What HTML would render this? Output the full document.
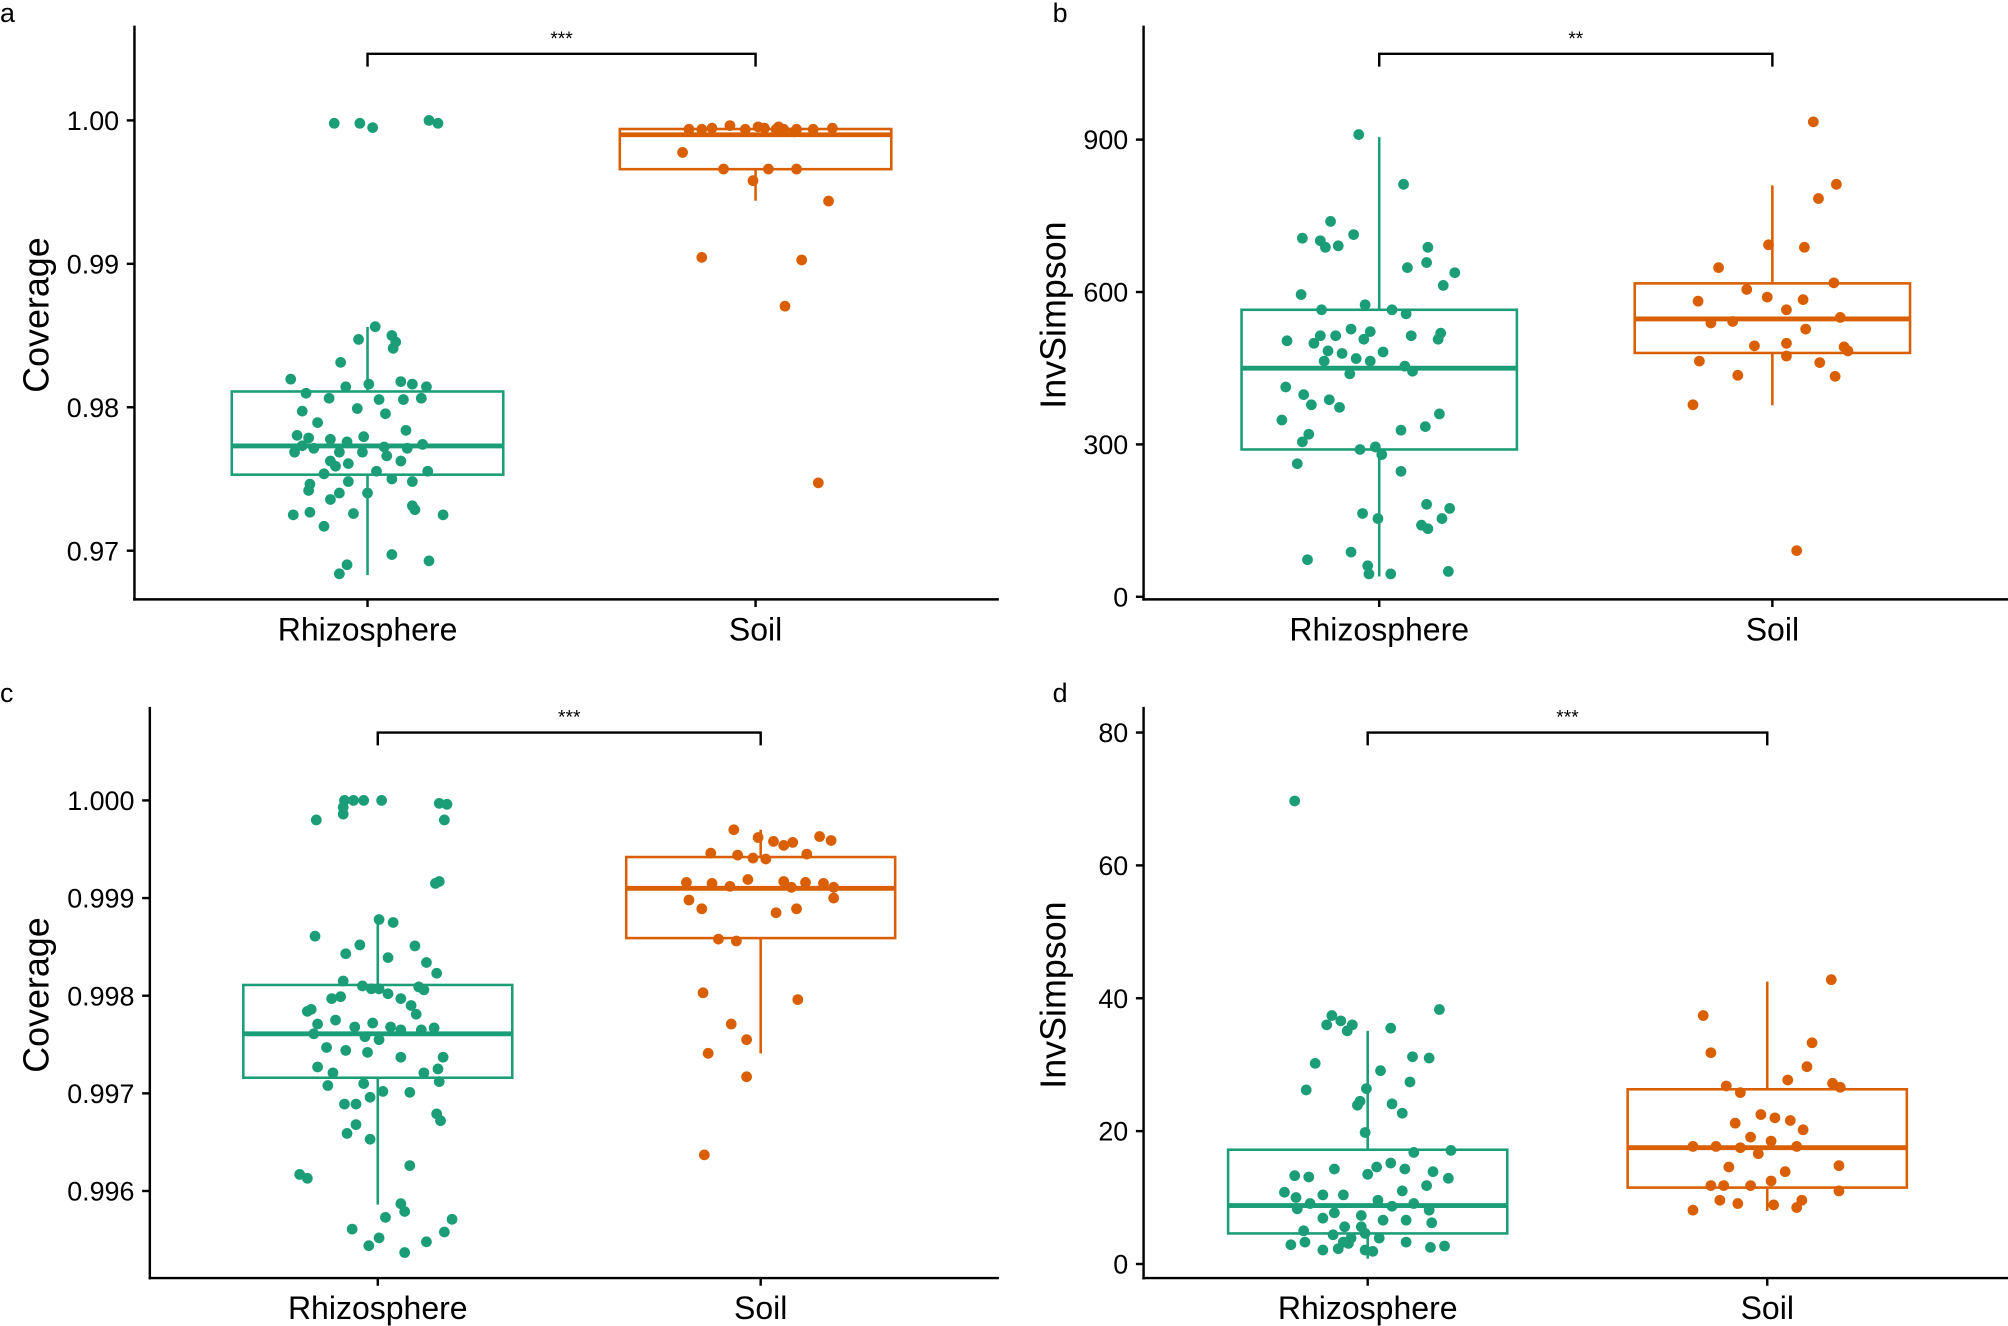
<!DOCTYPE html>
<html><head><meta charset="utf-8"><style>
html,body{margin:0;padding:0;background:#fff;}
svg{display:block;font-family:"Liberation Sans",Arial,sans-serif;}
</style></head><body>
<svg id="fig" width="2008" height="1326" viewBox="0 0 1568 1035.4" xmlns="http://www.w3.org/2000/svg"></svg>
<script>
const categories = ["Rhizosphere","Soil"];
// Panel a: [jitter, value]
const aRhizo = [[-26,.9998],[-6,.9998],[4,.9995],[48,1.0],[55,.9998],[6,.98562],[-7,.98473],[19,.985],[22,.98455],[20,.98411],[-21,.98313],[-60,.98196],[-17,.98143],[1,.98161],[26,.98179],[35,.98161],[46,.98143],[-48,.98098],[-30,.98063],[9,.98054],[28,.98054],[42,.98063],[-8,.97991],[-51,.97973],[14,.97955],[-39,.97893],[30,.97839],[-55,.97804],[-46,.97786],[-29,.97777],[-16,.97759],[-3,.97795],[13,.97723],[-51,.97732],[-42,.97714],[-57,.97687],[-22,.97687],[-4,.97687],[31,.97714],[43,.97741],[-29,.97625],[-15,.97607],[15,.97661],[26,.97625],[-25,.97589],[47,.97554],[-34,.97536],[7,.97554],[-45,.97464],[-15,.97482],[19,.975],[35,.97482],[-46,.9742],[-22,.97402],[0,.97402],[-29,.97357],[35,.97313],[37,.97286],[-45,.97268],[-11,.97259],[59,.9725],[-58,.9725],[-34,.9717],[19,.96973],[48,.96929],[-16,.96902],[-22,.96839]];
const aSoil = [[-52,.99938],[-42,.99938],[-34,.99946],[-20,.99964],[-8,.99938],[2,.99955],[7,.99946],[16,.99938],[18,.99955],[22,.99938],[32,.99938],[45,.99938],[60,.99946],[30,.9992],[-57,.99777],[-25,.99661],[10,.99661],[32,.99661],[-2,.9958],[57,.99438],[-42,.99045],[36,.99027],[23,.98705],[49,.97473]];
const aBoxes = [[.9683,.9753,.9773,.9811,.9856],[.9944,.9966,.9990,.9994,.9994]];
const aTicks = [0.97,0.98,0.99,1.00];
const aTickLabels = ["0.97","0.98","0.99","1.00"];
// Panel b
const bRhizo = [[-16,910],[19,812],[-38,739],[-60,706],[-46,701],[-32,691],[-42,688],[-20,713],[38,688],[37,658],[22,648],[59,638],[50,613],[-61,595],[-11,575],[-45,565],[10,565],[21,557],[-22,527],[48,519],[-46,514],[-34,514],[25,514],[-7,522],[46,507],[-72,504],[-51,499],[-12,507],[-40,484],[3,482],[-29,479],[-18,469],[-7,464],[-43,464],[20,454],[26,444],[-23,439],[-73,413],[-59,398],[-39,388],[-53,378],[-31,373],[47,360],[-76,348],[36,335],[-55,320],[17,328],[-60,305],[-3,295],[-15,290],[2,280],[-64,262],[17,247],[55,174],[37,182],[49,154],[33,141],[38,134],[-13,164],[-1,154],[-56,73],[-22,88],[-9,61],[9,45],[-8,45],[54,50]];
const bSoil = [[32,935],[50,812],[36,784],[-3,693],[25,688],[-42,648],[-20,605],[48,618],[-58,582],[-4,590],[24,585],[11,565],[53,550],[-31,542],[-48,539],[26,527],[-14,494],[11,499],[56,492],[59,484],[37,461],[-57,464],[11,474],[-27,436],[49,434],[-62,378],[19,91]];
const bBoxes = [[40,290,450,565,905],[377,480,547,617,810]];
const bTicks = [0,300,600,900];
const bTickLabels = ["0","300","600","900"];
// Panel c
const cRhizo = [[-26,1.0],[-19,1.0],[-11,1.0],[3,1.0],[-48,.9998],[-27,.99993],[-27,.99986],[48,.99997],[54,.99996],[52,.9998],[45,.99915],[48,.99917],[1,.99878],[12,.99875],[29,.99851],[-25,.99843],[-49,.99861],[-14,.99852],[46,.99823],[8,.99839],[38,.99834],[-27,.99815],[32,.99809],[-52,.99786],[-29,.99799],[-36,.99797],[-12,.9981],[-5,.99807],[1,.99807],[36,.99806],[8,.99802],[18,.99797],[26,.9979],[-55,.99784],[30,.99781],[-47,.99771],[-33,.99775],[-18,.99768],[-4,.99772],[10,.99768],[18,.99765],[34,.99765],[44,.99767],[-50,.99761],[-10,.99758],[1,.99755],[-40,.99747],[-25,.99744],[-8,.99742],[18,.99737],[51,.99737],[47,.99725],[-47,.99727],[-35,.99721],[36,.99721],[48,.99712],[-11,.9971],[-39,.99708],[4,.99702],[25,.99701],[-17,.99689],[-6,.99696],[-26,.99689],[46,.99679],[49,.99672],[-17,.99668],[-24,.99659],[-6,.99653],[25,.99626],[-61,.99617],[-55,.99613],[18,.99587],[21,.99579],[6,.99573],[58,.99571],[-20,.99561],[1,.99552],[38,.99548],[-7,.99544],[21,.99537],[52,.99558]];
const cSoil = [[-21,.9997],[-2,.99962],[10,.99958],[18,.99954],[25,.99957],[46,.99963],[55,.99959],[-39,.99946],[-18,.99944],[-6,.99941],[4,.9994],[36,.99945],[-58,.99916],[-38,.99915],[-24,.99912],[-10,.99919],[18,.99917],[24,.99911],[35,.99916],[49,.99915],[57,.99911],[57,.999],[-56,.99898],[-46,.99889],[12,.99885],[28,.99889],[-33,.99858],[-19,.99856],[29,.99796],[-45,.99803],[-23,.99771],[-41,.99741],[-11,.99755],[-11,.99717],[-44,.99637]];
const cBoxes = [[.99586,.99716,.99761,.99811,.99873],[.99741,.99859,.99910,.99942,.99970]];
const cTicks = [0.996,0.997,0.998,0.999,1.000];
const cTickLabels = ["0.996","0.997","0.998","0.999","1.000"];
// Panel d
const dRhizo = [[-57,69.7],[56,38.3],[-28,37.4],[-21,36.6],[-12,36.0],[18,35.5],[-32,36.0],[-16,35.1],[10,29.1],[-41,30.2],[35,31.2],[48,31.0],[-48,26.2],[-1,26.4],[33,27.4],[-6,24.5],[19,24.1],[27,22.7],[-8,23.9],[-2,19.8],[65,17.1],[36,16.8],[18,15.2],[7,14.6],[-26,14.3],[29,14.3],[51,13.9],[63,12.9],[-57,13.3],[-46,13.1],[0,13.5],[27,11.0],[46,11.8],[-65,10.8],[-35,10.4],[-19,10.4],[-56,10.0],[8,9.6],[-45,9.1],[19,8.7],[36,9.1],[48,8.1],[-55,8.3],[-26,7.7],[-5,7.3],[-35,6.9],[12,6.6],[30,6.6],[50,6.2],[-18,5.6],[-5,5.6],[-50,5.0],[-27,4.4],[-13,3.9],[-2,4.6],[9,3.9],[-49,3.3],[-19,3.3],[30,3.3],[60,2.7],[-23,2.3],[-35,2.1],[-2,2.1],[4,1.9],[-15,3.1],[-60,2.9],[49,2.5]];
const dSoil = [[50,42.8],[-50,37.4],[35,33.3],[31,29.7],[-44,31.8],[16,27.7],[-32,26.8],[51,27.2],[57,26.6],[-21,25.8],[-5,22.5],[6,22.0],[-25,21.2],[18,21.6],[28,20.2],[-13,19.1],[-58,17.7],[-40,17.7],[-21,17.5],[3,18.5],[23,17.7],[-7,16.6],[-30,14.6],[14,13.9],[56,14.8],[3,12.5],[-44,11.8],[-34,11.8],[-13,11.8],[56,11.0],[-37,9.6],[27,9.6],[-23,9.1],[23,8.5],[-58,8.1],[5,8.9]];
const dBoxes = [[0.8,4.6,8.8,17.2,35.1],[8,11.5,17.5,26.3,42.5]];
const dTicks = [0,20,40,60,80];
const dTickLabels = ["0","20","40","60","80"];

const NS="http://www.w3.org/2000/svg";
const svg=document.getElementById('fig');
const COLORS=["#1b9e77","#d95f02"];
function mk(tag,attrs,parent){const e=document.createElementNS(NS,tag);for(const k in attrs)e.setAttribute(k,attrs[k]);(parent||svg).appendChild(e);return e;}

const panels=[
 {id:'a',letter:'a',lx:0,ax:105,top:20,bottom:468,right:780,cx:[287,590],bw:212,v0:1.00,y0:94,v1:0.97,y1:430,ticks:aTicks,labels:aTickLabels,title:'Coverage',titleX:28,pts:[aRhizo,aSoil],boxes:aBoxes,sig:'***',br:42,ly:17},
 {id:'b',letter:'b',lx:822,ax:893,top:20,bottom:468,right:1568,cx:[1077,1384],bw:215,v0:0,y0:466,v1:900,y1:109,ticks:bTicks,labels:bTickLabels,title:'InvSimpson',titleX:822,pts:[bRhizo,bSoil],boxes:bBoxes,sig:'**',br:42,ly:17},
 {id:'c',letter:'c',lx:0,ax:117,top:552,bottom:998,right:780,cx:[295,594],bw:210,v0:1.000,y0:625,v1:0.996,y1:930,ticks:cTicks,labels:cTickLabels,title:'Coverage',titleX:28,pts:[cRhizo,cSoil],boxes:cBoxes,sig:'***',br:572,ly:548},
 {id:'d',letter:'d',lx:822,ax:893,top:552,bottom:998,right:1568,cx:[1068,1380],bw:218,v0:0,y0:987,v1:80,y1:572,ticks:dTicks,labels:dTickLabels,title:'InvSimpson',titleX:822,pts:[dRhizo,dSoil],boxes:dBoxes,sig:'***',br:572,ly:548}
];

panels.forEach(p=>{
  const g=mk('g',{});
  
  
  const y=v=>p.y0+(v-p.v0)*(p.y1-p.y0)/(p.v1-p.v0);
  const lt=mk('text',{x:p.lx,y:p.ly,'font-size':21,fill:'#000'},g);lt.textContent=p.letter;
  
  
  const ya=mk('line',{x1:p.ax,y1:p.top,x2:p.ax,y2:p.bottom+1,stroke:'#000','stroke-width':1.9},g);
  
  
  const xa=mk('line',{x1:p.ax-1,y1:p.bottom,x2:p.right,y2:p.bottom,stroke:'#000','stroke-width':1.9},g);
  
  
  p.ticks.forEach((t,i)=>{
    const yy=y(t);
    const tk=mk('line',{x1:p.ax-6,y1:yy,x2:p.ax,y2:yy,stroke:'#000','stroke-width':1.9},g);
    
    
    const tl=mk('text',{x:p.ax-12,y:yy+7.5,'font-size':21,'text-anchor':'end',fill:'#000'},g);
    tl.textContent=p.labels[i];
    
    
  });
  categories.forEach((c,i)=>{
    const tk=mk('line',{x1:p.cx[i],y1:p.bottom,x2:p.cx[i],y2:p.bottom+6,stroke:'#000','stroke-width':1.9},g);
    
    
    const tl=mk('text',{x:p.cx[i],y:p.bottom+32,'font-size':25,'text-anchor':'middle',fill:'#000'},g);
    tl.textContent=c;
    
    
  });
  const cy=(p.top+p.bottom)/2+2;
  const tt=mk('text',{x:p.titleX,y:cy,'font-size':28,'text-anchor':'middle',fill:'#000',transform:`rotate(-90 ${p.titleX} ${cy})`,dy:10},g);
  tt.textContent=p.title;
  
  
  p.boxes.forEach((b,i)=>{
    const col=COLORS[i],cx=p.cx[i],hw=p.bw/2;
    const bg=mk('g',{},g);
    
    
    mk('line',{x1:cx,y1:y(b[0]),x2:cx,y2:y(b[1]),stroke:col,'stroke-width':2},bg);
    mk('line',{x1:cx,y1:y(b[3]),x2:cx,y2:y(b[4]),stroke:col,'stroke-width':2},bg);
    mk('rect',{x:cx-hw,y:y(b[3]),width:p.bw,height:y(b[1])-y(b[3]),fill:'none',stroke:col,'stroke-width':2},bg);
    mk('line',{x1:cx-hw,y1:y(b[2]),x2:cx+hw,y2:y(b[2]),stroke:col,'stroke-width':3.8},bg);
  });
  p.pts.forEach((arr,i)=>{
    arr.forEach(d=>{
      const c=mk('circle',{cx:p.cx[i]+d[0],cy:y(d[1]),r:4.2,fill:COLORS[i]},g);
      
      
    });
  });
  const br=mk('path',{d:`M${p.cx[0]},${p.br+10}V${p.br}H${p.cx[1]}V${p.br+10}`,fill:'none',stroke:'#000','stroke-width':1.9},g);
  
  
  const st=mk('text',{x:(p.cx[0]+p.cx[1])/2,y:p.br-7,'font-size':15,'text-anchor':'middle',fill:'#000'},g);
  st.textContent=p.sig;
  
  
});
</script>
</body></html>
